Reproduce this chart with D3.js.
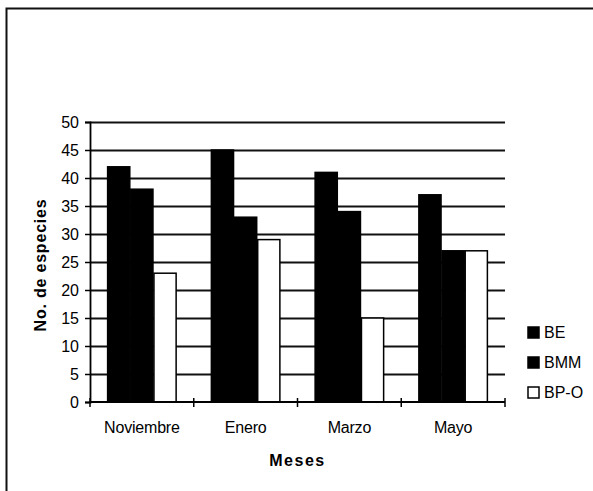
<!DOCTYPE html>
<html lang="es">
<head>
    <meta charset="UTF-8">
    <title>No. de especies por mes</title>
    <script src="https://cdn.jsdelivr.net/npm/d3@7"></script>
    <style>
        body { margin: 0; background: #fff; }
        svg { display: block; font-family: Arial, "Liberation Sans", sans-serif; }
    </style>
</head>
<body>
<script>
    // datos
    const meses = ['Noviembre', 'Enero', 'Marzo', 'Mayo'];
    const series = ['BE', 'BMM', 'BP-O'];
    const be = [42, 45, 41, 37];
    const bmm = [38, 33, 34, 27];
    const bpo = [23, 29, 15, 27];
    const yTicks = [0, 5, 10, 15, 20, 25, 30, 35, 40, 45, 50];

    const valores = [be, bmm, bpo];
    const fill = ['#000', '#000', '#fff'];

    const width = 593, height = 491;
    const margin = {left: 90, right: 88, top: 122, bottom: 89};

    const svg = d3.select('body').append('svg')
        .attr('width', width)
        .attr('height', height);

    // marco exterior (solo izquierda y arriba visibles)
    svg.append('path')
        .attr('d', `M6.5,${height} V8.5 H${width}`)
        .attr('fill', 'none')
        .attr('stroke', '#111')
        .attr('stroke-width', 2);

    const x = d3.scaleBand()
        .domain(meses)
        .range([margin.left, width - margin.right])
        .paddingInner(0.33)
        .paddingOuter(0.165);

    const x1 = d3.scaleBand()
        .domain(series)
        .range([0, x.bandwidth()]);

    const y = d3.scaleLinear()
        .domain([0, 50])
        .range([height - margin.bottom, margin.top]);

    const band = (width - margin.left - margin.right) / meses.length;

    // lineas de cuadricula
    svg.append('g')
        .selectAll('line')
        .data(yTicks.slice(1))
        .enter().append('line')
        .attr('x1', margin.left)
        .attr('x2', width - margin.right)
        .attr('y1', d => Math.round(y(d)) + 0.5)
        .attr('y2', d => Math.round(y(d)) + 0.5)
        .attr('stroke', '#111')
        .attr('stroke-width', 1.8);

    // barras
    const grupo = svg.append('g')
        .selectAll('g')
        .data(meses)
        .enter().append('g')
        .attr('transform', d => `translate(${x(d)},0)`);

    grupo.selectAll('rect')
        .data((d, i) => series.map((s, j) => ({s, j, v: valores[j][i]})))
        .enter().append('rect')
        .attr('x', d => x1(d.s) + 0.5)
        .attr('y', d => y(d.v))
        .attr('width', x1.bandwidth() - 1)
        .attr('height', d => y(0) - y(d.v))
        .attr('fill', d => fill[d.j])
        .attr('stroke', '#000')
        .attr('stroke-width', 1.5);

    // eje y
    const yAxis = svg.append('g')
        .attr('transform', `translate(${margin.left},0)`)
        .call(d3.axisLeft(y).tickValues(yTicks).tickSize(5).tickPadding(6));
    yAxis.select('.domain').attr('stroke', '#000').attr('stroke-width', 1.8);
    yAxis.selectAll('.tick line').attr('stroke', '#000').attr('stroke-width', 1.5);
    yAxis.selectAll('text')
        .attr('font-size', 16)
        .attr('fill', '#000')
        .attr('font-family', 'Arial, "Liberation Sans", sans-serif');

    // eje x
    const xAxis = svg.append('g')
        .attr('transform', `translate(0,${y(0)})`);
    xAxis.append('line')
        .attr('x1', margin.left)
        .attr('x2', width - margin.right)
        .attr('stroke', '#000')
        .attr('stroke-width', 1.8);
    xAxis.selectAll('.tk')
        .data(d3.range(meses.length + 1))
        .enter().append('line')
        .attr('class', 'tk')
        .attr('x1', i => margin.left + i * band)
        .attr('x2', i => margin.left + i * band)
        .attr('y1', -4)
        .attr('y2', 5)
        .attr('stroke', '#000')
        .attr('stroke-width', 1.5);
    xAxis.selectAll('text')
        .data(meses)
        .enter().append('text')
        .attr('x', d => x(d) + x.bandwidth() / 2)
        .attr('y', 31)
        .attr('text-anchor', 'middle')
        .attr('font-size', 16)
        .attr('letter-spacing', -0.2)
        .text(d => d);

    // titulos de ejes
    svg.append('text')
        .attr('x', (margin.left + width - margin.right) / 2)
        .attr('y', 466)
        .attr('text-anchor', 'middle')
        .attr('font-size', 16)
        .attr('font-weight', 'bold')
        .attr('letter-spacing', 1.5)
        .text('Meses');

    svg.append('text')
        .attr('transform', `translate(46,265) rotate(-90)`)
        .attr('text-anchor', 'middle')
        .attr('font-size', 16)
        .attr('font-weight', 'bold')
        .attr('letter-spacing', 0.8)
        .text('No. de especies');

    // leyenda
    const leyenda = svg.append('g')
        .selectAll('g')
        .data(series)
        .enter().append('g')
        .attr('transform', (d, i) => `translate(528,${327 + i * 30})`);
    leyenda.append('rect')
        .attr('width', 11)
        .attr('height', 11)
        .attr('fill', (d, i) => fill[i])
        .attr('stroke', '#000')
        .attr('stroke-width', 1.5);
    leyenda.append('text')
        .attr('x', 16)
        .attr('y', 11)
        .attr('font-size', 16)
        .text(d => d);
</script>
</body>
</html>
